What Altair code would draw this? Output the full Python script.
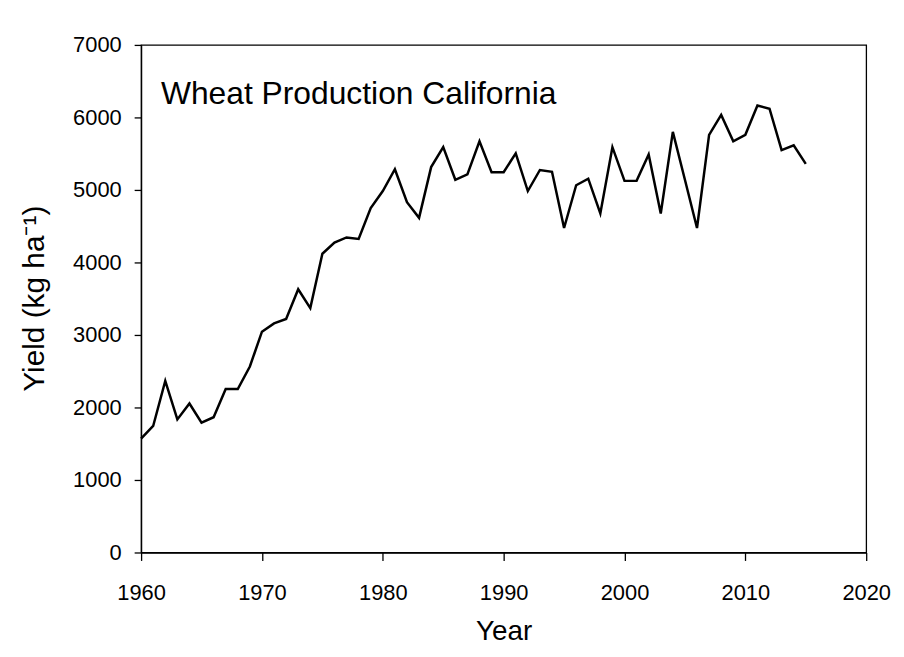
import altair as alt
import pandas as pd

FONT = "Liberation Sans"

years = list(range(1960, 2016))
yields = [1570, 1745, 2365, 1835, 2055, 1790, 1865, 2255, 2255, 2565,
          3045, 3160, 3220, 3630, 3370, 4120, 4275, 4345, 4325, 4750,
          4985, 5285, 4830, 4615, 5315, 5590, 5140, 5215, 5670, 5245,
          5245, 5505, 4985, 5275, 5250, 4475, 5065, 5155, 4675, 5590,
          5125, 5125, 5490, 4675, 5800, 5140, 4475, 5760, 6035, 5670,
          5760, 6165, 6120, 5550, 5615, 5360]

x_ticks = [1960, 1970, 1980, 1990, 2000, 2010, 2020]
y_ticks = [0, 1000, 2000, 3000, 4000, 5000, 6000, 7000]
annotation = ["Wheat Production California"]

df = pd.DataFrame({"Year": years, "Yield": yields})

line = alt.Chart(df).mark_line(color="black", strokeWidth=2.5).encode(
    x=alt.X("Year:Q",
            scale=alt.Scale(domain=[1960, 2020], nice=False, zero=False),
            axis=alt.Axis(values=x_ticks, format="d", title="Year",
                          labelFlush=False, labelOverlap=False,
                          tickSize=8, labelPadding=22, labelFontSize=22,
                          titleFontSize=28, titleFontWeight="normal",
                          titleBaseline="alphabetic", titleY=88)),
    y=alt.Y("Yield:Q",
            scale=alt.Scale(domain=[0, 7000], nice=False),
            axis=alt.Axis(values=y_ticks, format="d", title="Yield (kg ha⁻¹)",
                          labelFlush=False, labelOverlap=False,
                          tickSize=7, labelPadding=13, labelFontSize=22,
                          titleFontSize=30, titleFontWeight="normal",
                          titleAngle=270, titleBaseline="alphabetic",
                          titleX=-98, titleY=255)),
)

label = alt.Chart(pd.DataFrame({"t": annotation})).mark_text(
    align="left", baseline="alphabetic", fontSize=32, font=FONT, color="black"
).encode(x=alt.value(20), y=alt.value(59), text="t:N")

chart = alt.layer(line, label).properties(
    width=730, height=511,
    autosize=alt.AutoSizeParams(type="none"),
    padding={"left": 134, "top": 35, "right": 30, "bottom": 95},
    background="white",
).configure_view(
    stroke="black", strokeWidth=1.3, fill="white"
).configure_axis(
    grid=False, domainColor="black", domainWidth=1.3, tickColor="black",
    tickWidth=1.3, labelColor="black", titleColor="black",
    labelFont=FONT, titleFont=FONT,
)

chart.save("out.html", embed_options={"renderer": "svg", "actions": False})
